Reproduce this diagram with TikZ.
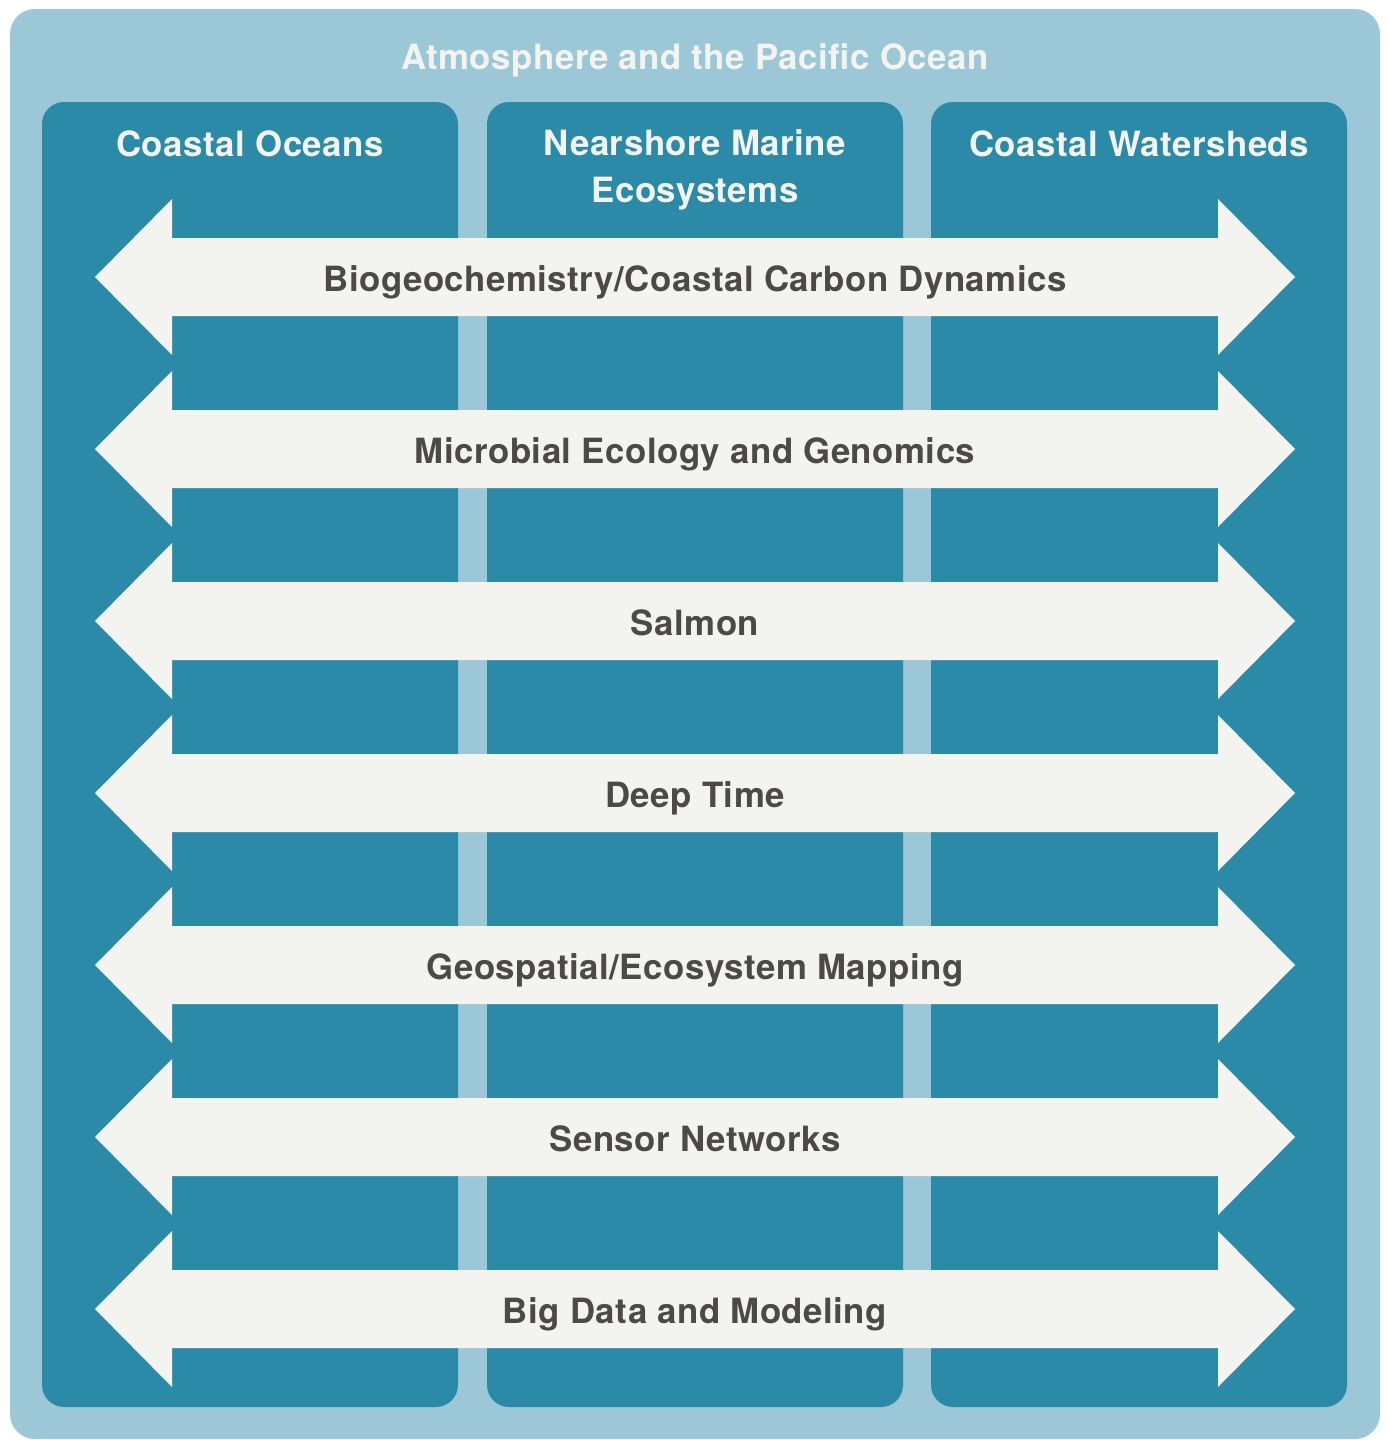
\documentclass[tikz,border=0pt]{standalone}
\usepackage{fontspec}
\setmainfont{TeX Gyre Heros}[LetterSpace=1.5]

\definecolor{skyblue}{HTML}{9CC7D6}
\definecolor{oceanteal}{HTML}{2B8AA8}
\definecolor{arrowwhite}{HTML}{F3F4F0}
\definecolor{labelgrey}{HTML}{4B4A48}

\begin{document}
\begin{tikzpicture}[x=0.02cm, y=-0.02cm,
  headtext/.style={text=arrowwhite, font=\bfseries\fontsize{19.8}{26.2}\selectfont,
    anchor=base, inner sep=0pt, align=center},
  topictext/.style={text=labelgrey, font=\bfseries\fontsize{19.8}{26.2}\selectfont,
    anchor=base, inner sep=0pt}]

\useasboundingbox (0,0) rectangle (1389,1440);

\path[fill=skyblue, rounded corners=0.5cm] (10,9) rectangle (1380,1439);
\node[headtext] (atmos) at (695,69) {Atmosphere and the Pacific Ocean};

\foreach \left in {42,487,931}
  \path[fill=oceanteal, rounded corners=0.44cm] (\left,102) rectangle ({\left+416},1407);

\node[headtext] (oceans) at (250,156) {Coastal Oceans};
% base of a two-line node is its last line
\node[headtext] (nearshore) at (695,202) {Nearshore Marine\\Ecosystems};
\node[headtext] (watersheds) at (1139,156) {Coastal Watersheds};

\foreach \topic [count=\i] in {{Biogeochemistry/Coastal Carbon Dynamics},
    {Microbial Ecology and Genomics}, Salmon, Deep Time,
    {Geospatial/Ecosystem Mapping}, Sensor Networks, Big Data and Modeling}
{
  \pgfmathsetmacro\y{277+172*(\i-1)}
  \path[fill=arrowwhite] (95,\y) -- (172,{\y-78}) -- (172,{\y-39}) -- (1218,{\y-39})
    -- (1218,{\y-78}) -- (1295,\y) -- (1218,{\y+78}) -- (1218,{\y+39})
    -- (172,{\y+39}) -- (172,{\y+78}) -- cycle;
  \node[topictext] (topic\i) at (695,{\y+14}) {\topic};
}

\end{tikzpicture}
\end{document}
